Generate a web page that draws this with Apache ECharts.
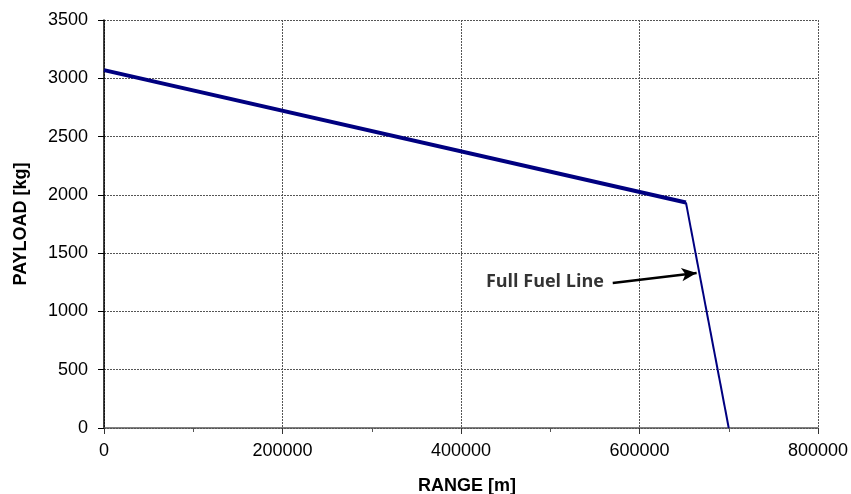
<!DOCTYPE html>
<html>
<head>
<meta charset="utf-8">
<script src="https://cdn.jsdelivr.net/npm/echarts@6/dist/echarts.min.js"></script>
<style>html,body{margin:0;padding:0;background:#fff}#c{width:851px;height:494px}</style>
</head>
<body>
<div id="c"></div>
<script>
// Data
var payloadRange = [0, 652000];
var payloadValues = [3070, 1935];
var fuelRange = [652000, 700000];
var fuelValues = [1935, 0];
var annotationText = 'Full Fuel Line';
var arrowFrom = [570000, 1244];
var arrowTo = [664000, 1330];
var textAt = [494000, 1252];

function pairs(xs, ys) { return xs.map(function (x, i) { return [x, ys[i]]; }); }
function plain(v) { return String(v); }

var chart = echarts.init(document.getElementById('c'));
var font = 'Liberation Sans, Arial, sans-serif';
chart.setOption({
  animation: false,
  grid: { left: 104, right: 33, top: 20, bottom: 66, containLabel: false, outerBoundsMode: 'none' },
  xAxis: {
    type: 'value', min: 0, max: 800000, interval: 200000,
    name: 'RANGE [m]', nameLocation: 'middle', nameGap: 49,
    nameTextStyle: { fontFamily: font, fontWeight: 'bold', fontSize: 18, color: '#000', padding: [0, 0, 0, 12] },
    axisLine: { show: true, onZero: false, lineStyle: { color: '#555', width: 1.5 } },
    axisTick: { show: true, length: 6, lineStyle: { color: '#333' } },
    minorTick: { show: true, splitNumber: 2, length: 4, lineStyle: { color: '#555' } },
    axisLabel: { fontFamily: font, fontSize: 18, color: '#000', margin: 14, formatter: plain },
    splitLine: { show: true, lineStyle: { color: '#555', type: [2, 1], width: 1 } }
  },
  yAxis: {
    type: 'value', min: 0, max: 3500, interval: 500,
    name: 'PAYLOAD [kg]', nameLocation: 'middle', nameGap: 74,
    nameTextStyle: { fontFamily: font, fontWeight: 'bold', fontSize: 18, color: '#000' },
    axisLine: { show: true, lineStyle: { color: '#000', width: 1.5 } },
    axisTick: { show: true, length: 6, lineStyle: { color: '#000' } },
    axisLabel: { fontFamily: font, fontSize: 18, color: '#000', margin: 16, formatter: plain },
    splitLine: { show: true, lineStyle: { color: '#555', type: [2, 1], width: 1 } }
  },
  series: [
    {
      type: 'line', data: pairs(payloadRange, payloadValues), symbol: 'none',
      lineStyle: { color: '#000080', width: 4 }, z: 3
    },
    {
      type: 'line', data: pairs(fuelRange, fuelValues), symbol: 'none',
      lineStyle: { color: '#000080', width: 2 }, z: 3,
      markLine: {
        silent: true, symbol: ['none', 'arrow'], symbolSize: [10, 15],
        label: { show: false },
        lineStyle: { color: '#000', width: 2.5, type: 'solid' },
        data: [[{ coord: arrowFrom }, { coord: arrowTo }]]
      }
    },
    {
      type: 'scatter', data: [textAt], symbolSize: 0, silent: true,
      label: {
        show: true, position: 'inside', formatter: annotationText,
        fontFamily: 'Open Sans, Lato, sans-serif', fontWeight: 'bold', fontSize: 18, color: '#000'
      }
    }
  ]
});
</script>
</body>
</html>
